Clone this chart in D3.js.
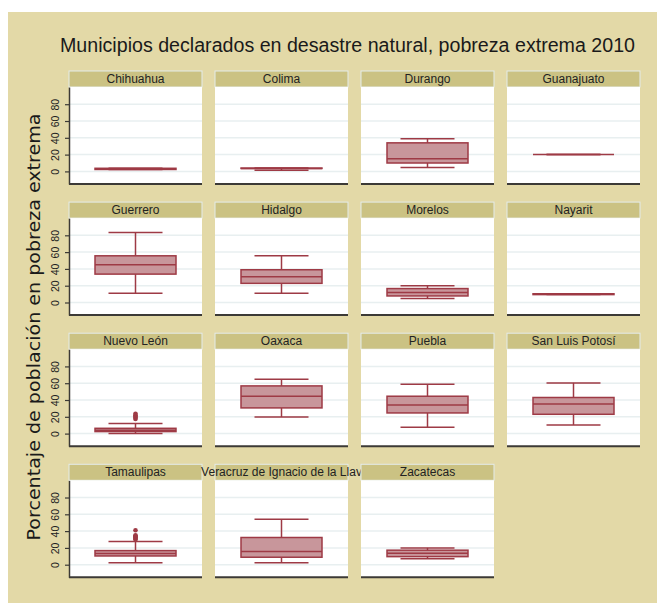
<!DOCTYPE html>
<html>
<head>
<meta charset="utf-8">
<script src="https://cdn.jsdelivr.net/npm/d3@7"></script>
<style>
  body { margin: 0; background: #fff; }
  svg { display: block; }
</style>
</head>
<body>
<div id="chart"></div>
<script>
// Boxplot data per state
var states = ["Chihuahua", "Colima", "Durango", "Guanajuato",
              "Guerrero", "Hidalgo", "Morelos", "Nayarit",
              "Nuevo León", "Oaxaca", "Puebla", "San Luis Potosí",
              "Tamaulipas", "Veracruz de Ignacio de la Llav", "Zacatecas"];
var mins    = [2.3, 1.5, 4.5, 20, 11,   11,   4.7,  9.4,  0,   19.8, 7.5,  10.3, 2.4,  2.4,  7.2];
var q1s     = [2.3, 3.5, 10,  20, 33.8, 22.8, 7.8,  9.4,  2.4, 30.6, 24.6, 23,   10.4, 8.9,  9.6];
var medians = [3,   3.5, 15,  20, 45,   30.8, 12,   10,   4,   44.5, 34.2, 35.3, 13.2, 15.6, 13.7];
var q3s     = [3.7, 4,   34,  20, 55.6, 39,   16.6, 10.4, 6.3, 56.8, 44.5, 43,   16.8, 32.4, 17.3];
var maxs    = [3.7, 4,   39,  20, 83.5, 55.6, 20,   10.4, 12,  64.8, 58.9, 60.4, 27.6, 54,   20];
var outliers = [[], [], [], [], [], [], [], [],
                [17.5, 19, 20.5, 22, 23.5], [], [], [],
                [30, 31, 32, 33, 34, 35, 41], [], []];
var yTicks = [0, 20, 40, 60, 80];

var title = "Municipios declarados en desastre natural, pobreza extrema 2010";
var yTitle = "Porcentaje de población en pobreza extrema";

var W = 657, H = 603;
var svg = d3.select("#chart").append("svg")
    .attr("width", W).attr("height", H);

// beige background
svg.append("rect")
    .attr("x", 8).attr("y", 12)
    .attr("width", W - 8).attr("height", H - 12)
    .attr("fill", "#e3d9a7");

svg.append("text")
    .attr("x", 347.5).attr("y", 52)
    .attr("text-anchor", "middle")
    .attr("font-family", "Liberation Sans, sans-serif")
    .attr("font-size", 20)
    .attr("textLength", 575)
    .attr("lengthAdjust", "spacingAndGlyphs")
    .attr("fill", "#1a1a1a")
    .text(title);

svg.append("text")
    .attr("transform", "translate(40,327) rotate(-90)")
    .attr("text-anchor", "middle")
    .attr("font-family", "DejaVu Sans, sans-serif")
    .attr("font-size", 17)
    .attr("textLength", 427)
    .attr("lengthAdjust", "spacingAndGlyphs")
    .attr("fill", "#1a1a1a")
    .text(yTitle);

// panel layout
var x0 = 69, colStep = 146, panelW = 133;
var y0 = 71, rowStep = 131.1, headerH = 16, plotH = 97;
var boxColor = "#9e3a45", boxFill = "#c8969b";

var y = d3.scaleLinear().domain([-15, 100.5]).range([plotH, 0]);

states.forEach(function(name, i) {
    var col = i % 4, row = Math.floor(i / 4);
    var px = x0 + col * colStep;
    var py = y0 + row * rowStep;

    var g = svg.append("g").attr("transform", "translate(" + px + "," + py + ")");

    // header strip
    g.append("rect")
        .attr("x", 0).attr("y", 0)
        .attr("width", panelW).attr("height", headerH)
        .attr("fill", "#cbc283")
        .attr("stroke", "#e4ecea").attr("stroke-width", 1);
    g.append("text")
        .attr("x", panelW / 2).attr("y", 12)
        .attr("text-anchor", "middle")
        .attr("font-family", "Liberation Sans, sans-serif")
        .attr("font-size", 12)
        .attr("fill", "#222")
        .text(name);

    var p = g.append("g").attr("transform", "translate(0," + headerH + ")");
    p.append("rect")
        .attr("width", panelW).attr("height", plotH)
        .attr("fill", "#fff");

    // gridlines
    p.selectAll(".grid").data(yTicks).enter().append("line")
        .attr("x1", 0).attr("x2", panelW)
        .attr("y1", function(d) { return y(d); })
        .attr("y2", function(d) { return y(d); })
        .attr("stroke", "#e8eff0").attr("stroke-width", 1.5);

    // box
    var cx = panelW / 2, bw = 81, cw = 54;
    var sw = 1.5;
    p.append("line")
        .attr("x1", cx).attr("x2", cx)
        .attr("y1", y(maxs[i])).attr("y2", y(q3s[i]))
        .attr("stroke", boxColor).attr("stroke-width", sw);
    p.append("line")
        .attr("x1", cx).attr("x2", cx)
        .attr("y1", y(q1s[i])).attr("y2", y(mins[i]))
        .attr("stroke", boxColor).attr("stroke-width", sw);
    [mins[i], maxs[i]].forEach(function(v) {
        p.append("line")
            .attr("x1", cx - cw / 2).attr("x2", cx + cw / 2)
            .attr("y1", y(v)).attr("y2", y(v))
            .attr("stroke", boxColor).attr("stroke-width", sw);
    });
    p.append("rect")
        .attr("x", cx - bw / 2).attr("width", bw)
        .attr("y", y(q3s[i]))
        .attr("height", Math.max(0, y(q1s[i]) - y(q3s[i])))
        .attr("fill", boxFill)
        .attr("stroke", boxColor).attr("stroke-width", sw);
    p.append("line")
        .attr("x1", cx - bw / 2).attr("x2", cx + bw / 2)
        .attr("y1", y(medians[i])).attr("y2", y(medians[i]))
        .attr("stroke", boxColor).attr("stroke-width", sw);

    p.selectAll(".out").data(outliers[i]).enter().append("circle")
        .attr("cx", cx).attr("cy", function(d) { return y(d); })
        .attr("r", 2.3)
        .attr("fill", boxColor);

    // bottom axis line
    p.append("line")
        .attr("x1", 0).attr("x2", panelW)
        .attr("y1", plotH).attr("y2", plotH)
        .attr("stroke", "#3c3a36").attr("stroke-width", 2);

    // left axis on first column only
    if (col === 0) {
        var ax = p.append("g")
            .call(d3.axisLeft(y).tickValues(yTicks).tickSize(4).tickSizeOuter(0));
        ax.select(".domain").attr("stroke", "#3c3a36").attr("stroke-width", 1.5);
        ax.selectAll(".tick line").attr("stroke", "#3c3a36").attr("stroke-width", 1.2);
        ax.selectAll(".tick text")
            .attr("x", 0).attr("y", -10.5).attr("dy", 0)
            .attr("transform", "rotate(-90)")
            .attr("text-anchor", "middle")
            .attr("font-family", "Liberation Sans, sans-serif")
            .attr("font-size", 10.5)
            .attr("fill", "#222");
    }
});
</script>
</body>
</html>
